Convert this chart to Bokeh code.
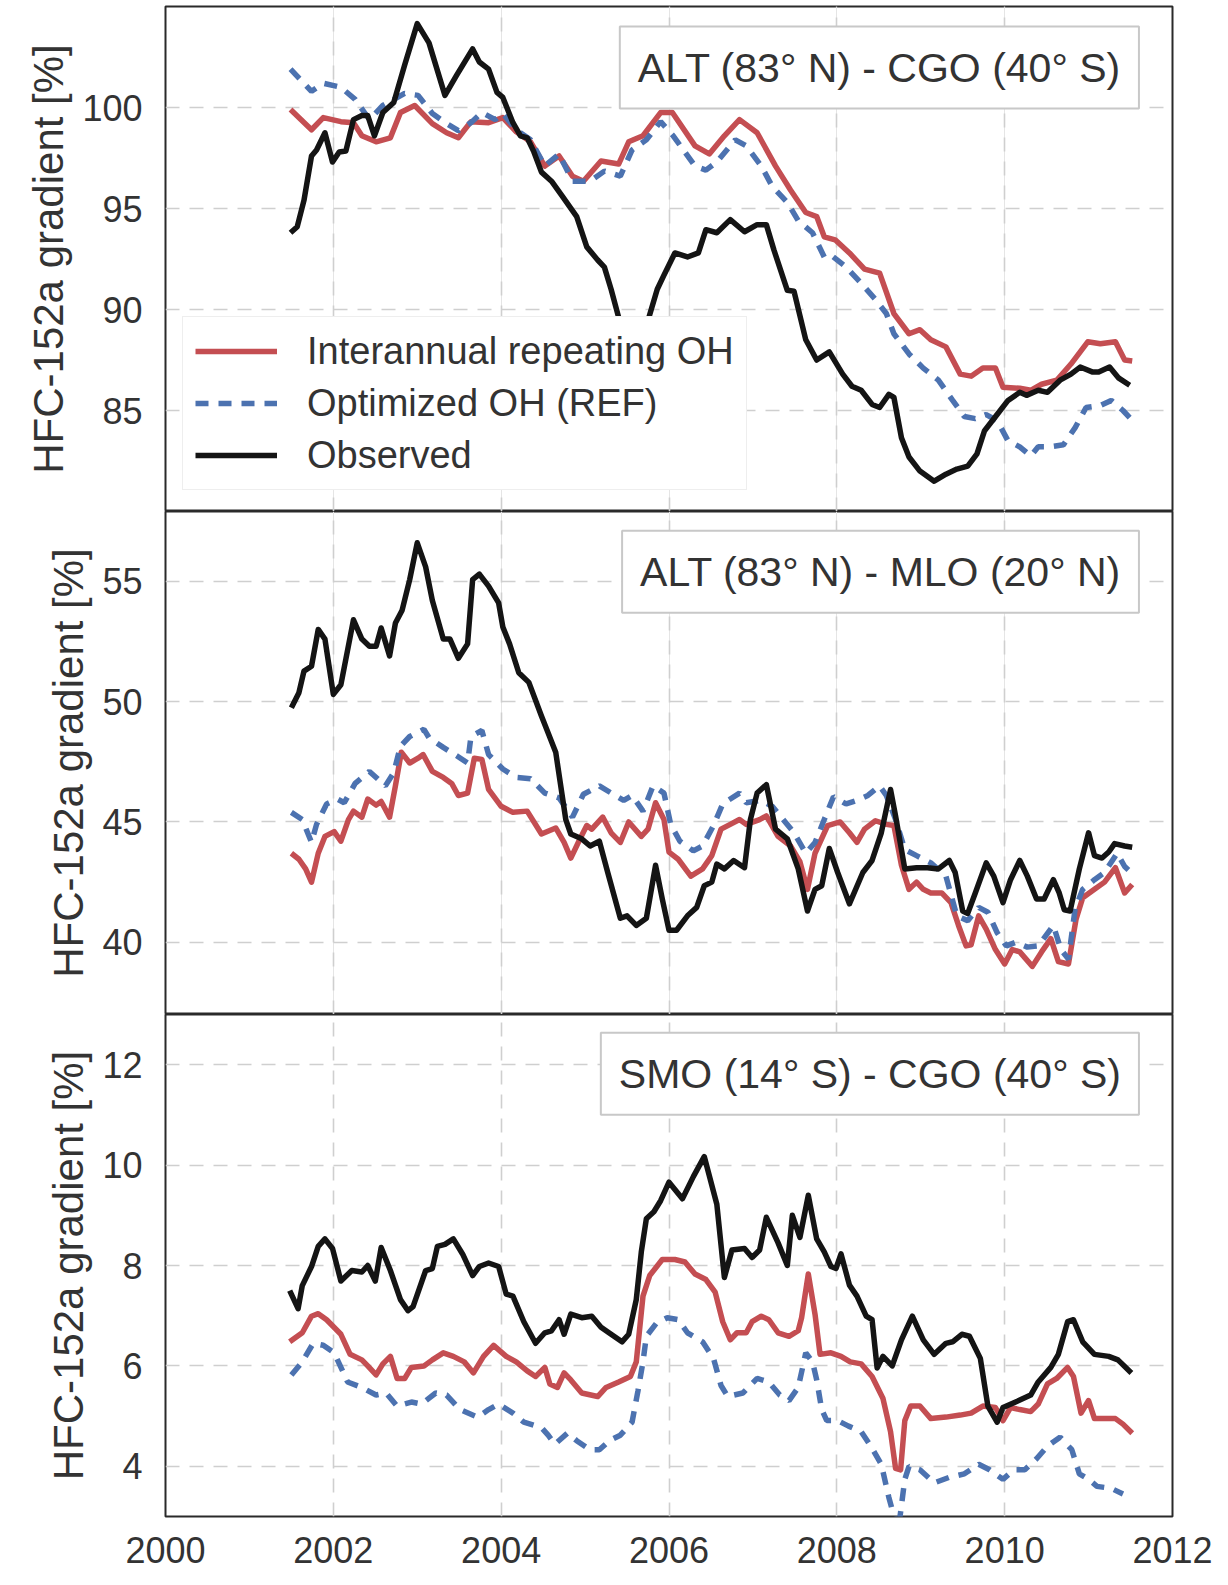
from bokeh.plotting import figure
from bokeh.layouts import column
from bokeh.models import FixedTicker, Legend, LegendItem, Label, Range1d, Grid
from bokeh.embed import file_html
from bokeh.resources import INLINE

FONT = "Liberation Sans"
TXT = "#333333"
RED = "#c44e52"
BLUE = "#4c72b0"
BLACK = "#141414"

series_labels = ["Interannual repeating OH", "Optimized OH (REF)", "Observed"]
ylabel = "HFC-152a gradient [%]"
panel_titles = ["ALT (83° N) - CGO (40° S)", "ALT (83° N) - MLO (20° N)", "SMO (14° S) - CGO (40° S)"]
x_ticks = [2000, 2002, 2004, 2006, 2008, 2010, 2012]

# ---------------- Panel 1: ALT - CGO ----------------
top_red_x = [2001.49, 2001.74, 2001.88, 2002.09, 2002.24, 2002.34, 2002.51, 2002.68, 2002.80, 2002.97,
             2003.18, 2003.35, 2003.49, 2003.64, 2003.85, 2004.02, 2004.18, 2004.35, 2004.52, 2004.69,
             2004.85, 2004.98, 2005.19, 2005.40, 2005.52, 2005.69, 2005.90, 2006.04, 2006.31, 2006.48,
             2006.66, 2006.84, 2007.05, 2007.27, 2007.45, 2007.63, 2007.76, 2007.85, 2007.98, 2008.15,
             2008.33, 2008.51, 2008.68, 2008.86, 2008.99, 2009.12, 2009.30, 2009.47, 2009.60, 2009.74,
             2009.89, 2009.98, 2010.18, 2010.31, 2010.44, 2010.62, 2010.79, 2010.99, 2011.14, 2011.32,
             2011.43, 2011.52]
top_red_y = [99.9, 98.9, 99.5, 99.3, 99.25, 98.6, 98.3, 98.5, 99.75, 100.1,
             99.2, 98.75, 98.5, 99.3, 99.25, 99.5, 98.8, 98.3, 97.1, 97.6,
             96.6, 96.35, 97.35, 97.2, 98.3, 98.6, 99.75, 99.75, 98.1, 97.7,
             98.6, 99.4, 98.75, 97.1, 95.9, 94.8, 94.6, 93.6, 93.45, 92.8,
             92.0, 91.8, 89.8, 88.8, 89.0, 88.5, 88.15, 86.8, 86.7, 87.1,
             87.1, 86.15, 86.1, 86.0, 86.3, 86.5, 87.3, 88.4, 88.3, 88.4,
             87.5, 87.45]

top_blue_x = [2001.49, 2001.74, 2001.88, 2002.09, 2002.26, 2002.43, 2002.59, 2002.85, 2003.01, 2003.18,
              2003.35, 2003.49, 2003.64, 2003.77, 2003.93, 2004.02, 2004.18, 2004.35, 2004.52, 2004.69,
              2004.85, 2005.06, 2005.23, 2005.42, 2005.56, 2005.73, 2005.90, 2006.05, 2006.31, 2006.44,
              2006.57, 2006.79, 2006.92, 2007.10, 2007.23, 2007.41, 2007.54, 2007.71, 2007.85, 2007.93,
              2008.11, 2008.29, 2008.46, 2008.59, 2008.68, 2008.86, 2009.03, 2009.21, 2009.38, 2009.52,
              2009.65, 2009.78, 2009.91, 2010.04, 2010.18, 2010.31, 2010.40, 2010.53, 2010.70, 2010.84,
              2010.97, 2011.14, 2011.27, 2011.41, 2011.49]
top_blue_y = [101.9, 100.8, 101.2, 101.0, 100.4, 99.4, 100.1, 100.7, 100.6, 99.7,
              99.2, 98.85, 99.25, 99.75, 99.4, 99.7, 98.9, 98.4, 97.1, 97.7,
              96.35, 96.35, 96.85, 96.6, 97.9, 98.4, 99.3, 98.6, 97.1, 96.9,
              97.3, 98.4, 98.1, 97.1, 96.1, 95.3, 94.4, 93.8, 92.6, 92.7,
              92.1, 91.3, 90.5, 89.8, 88.8, 87.8, 87.1, 86.5, 85.5, 84.7,
              84.6, 84.8, 84.5, 83.5, 83.2, 82.75, 83.2, 83.2, 83.3, 84.15,
              85.15, 85.25, 85.5, 85.0, 84.65]

top_obs_x = [2001.49, 2001.57, 2001.65, 2001.74, 2001.80, 2001.90, 2001.99, 2002.07, 2002.15, 2002.24,
             2002.34, 2002.41, 2002.49, 2002.59, 2002.72, 2002.85, 2003.00, 2003.14, 2003.33, 2003.47,
             2003.66, 2003.74, 2003.85, 2003.95, 2004.02, 2004.14, 2004.23, 2004.31, 2004.39, 2004.48,
             2004.60, 2004.73, 2004.90, 2005.02, 2005.15, 2005.23, 2005.31, 2005.42, 2005.55, 2005.68,
             2005.76, 2005.86, 2005.94, 2006.07, 2006.22, 2006.35, 2006.44, 2006.57, 2006.73, 2006.90,
             2007.05, 2007.16, 2007.25, 2007.41, 2007.49, 2007.63, 2007.76, 2007.91, 2008.07, 2008.18,
             2008.29, 2008.42, 2008.51, 2008.62, 2008.68, 2008.77, 2008.86, 2008.99, 2009.16, 2009.30,
             2009.43, 2009.56, 2009.67, 2009.76, 2009.91, 2010.04, 2010.18, 2010.26, 2010.40, 2010.51,
             2010.66, 2010.79, 2010.90, 2011.05, 2011.12, 2011.25, 2011.36, 2011.49]
top_obs_y = [93.8, 94.1, 95.4, 97.6, 97.9, 98.75, 97.3, 97.8, 97.85, 99.4,
             99.6, 99.6, 98.6, 99.75, 100.25, 102.1, 104.15, 103.2, 100.6, 101.6,
             102.9, 102.25, 101.9, 100.75, 100.5, 99.25, 98.6, 98.5, 97.8, 96.8,
             96.35, 95.6, 94.6, 93.1, 92.45, 92.1, 91.0, 89.3, 87.0, 87.6,
             89.6, 91.0, 91.7, 92.8, 92.6, 92.8, 93.95, 93.8, 94.45, 93.85,
             94.2, 94.2, 92.95, 90.95, 90.9, 88.5, 87.5, 87.9, 86.8, 86.2,
             86.0, 85.3, 85.15, 85.8, 85.65, 83.65, 82.7, 82.0, 81.5, 81.85,
             82.1, 82.25, 82.85, 84.0, 84.8, 85.5, 85.9, 85.75, 86.0, 85.9,
             86.5, 86.8, 87.15, 86.9, 86.9, 87.15, 86.6, 86.25]

# ---------------- Panel 2: ALT - MLO ----------------
mid_red_x = [2001.50, 2001.59, 2001.67, 2001.74, 2001.82, 2001.90, 2002.01, 2002.09, 2002.18, 2002.24,
             2002.34, 2002.41, 2002.51, 2002.57, 2002.67, 2002.74, 2002.81, 2002.91, 2003.01, 2003.07,
             2003.18, 2003.31, 2003.41, 2003.49, 2003.60, 2003.68, 2003.77, 2003.85, 2004.00, 2004.14,
             2004.31, 2004.48, 2004.65, 2004.75, 2004.83, 2004.94, 2005.02, 2005.08, 2005.21, 2005.31,
             2005.42, 2005.52, 2005.67, 2005.75, 2005.84, 2005.94, 2006.00, 2006.11, 2006.26, 2006.40,
             2006.51, 2006.62, 2006.73, 2006.84, 2006.92, 2007.08, 2007.16, 2007.30, 2007.45, 2007.56,
             2007.65, 2007.74, 2007.89, 2008.04, 2008.15, 2008.24, 2008.33, 2008.46, 2008.59, 2008.68,
             2008.77, 2008.86, 2008.95, 2009.03, 2009.12, 2009.25, 2009.36, 2009.45, 2009.54, 2009.60,
             2009.69, 2009.78, 2009.89, 2010.00, 2010.09, 2010.18, 2010.33, 2010.44, 2010.55, 2010.64,
             2010.76, 2010.85, 2010.93, 2011.07, 2011.19, 2011.32, 2011.43, 2011.52]
mid_red_y = [43.7, 43.45, 43.05, 42.5, 43.7, 44.4, 44.6, 44.2, 45.1, 45.45,
             45.2, 45.95, 45.7, 45.85, 45.2, 46.5, 47.9, 47.45, 47.65, 47.8,
             47.1, 46.85, 46.6, 46.1, 46.2, 47.65, 47.6, 46.35, 45.65, 45.4,
             45.45, 44.5, 44.75, 44.15, 43.5, 44.3, 44.85, 44.7, 45.2, 44.55,
             44.15, 45.0, 44.4, 44.7, 45.8, 45.1, 43.75, 43.45, 42.75, 43.05,
             43.6, 44.7, 44.9, 45.1, 44.9, 45.1, 45.25, 44.4, 44.0, 43.35,
             42.2, 43.7, 44.85, 45.0, 44.55, 44.15, 44.7, 45.05, 44.9, 44.85,
             43.2, 42.2, 42.5, 42.2, 42.05, 42.05, 41.65, 40.7, 39.85, 39.9,
             41.1, 40.55, 39.7, 39.1, 39.7, 39.6, 39.0, 39.6, 40.15, 39.2,
             39.1, 40.95, 41.85, 42.2, 42.5, 43.1, 42.05, 42.4]

mid_blue_x = [2001.50, 2001.63, 2001.74, 2001.80, 2001.92, 2002.05, 2002.13, 2002.26, 2002.43, 2002.62,
              2002.72, 2002.80, 2002.91, 2003.08, 2003.14, 2003.31, 2003.47, 2003.60, 2003.64, 2003.77,
              2003.85, 2004.02, 2004.18, 2004.35, 2004.52, 2004.69, 2004.85, 2004.98, 2005.17, 2005.36,
              2005.46, 2005.56, 2005.69, 2005.81, 2005.94, 2006.02, 2006.13, 2006.29, 2006.40, 2006.53,
              2006.64, 2006.84, 2006.92, 2007.10, 2007.23, 2007.36, 2007.49, 2007.63, 2007.74, 2007.85,
              2007.96, 2008.11, 2008.24, 2008.37, 2008.51, 2008.59, 2008.70, 2008.81, 2008.95, 2009.12,
              2009.30, 2009.43, 2009.56, 2009.69, 2009.80, 2009.91, 2010.02, 2010.13, 2010.27, 2010.40,
              2010.58, 2010.67, 2010.76, 2010.84, 2010.93, 2011.07, 2011.19, 2011.34, 2011.43, 2011.49]
mid_blue_y = [45.4, 45.1, 44.15, 44.9, 45.75, 45.95, 45.8, 46.6, 47.1, 46.5,
              47.05, 48.15, 48.55, 48.85, 48.5, 48.1, 47.75, 47.45, 48.55, 48.8,
              47.8, 47.2, 46.85, 46.8, 46.2, 46.0, 45.2, 46.15, 46.5, 46.1,
              45.9, 46.1, 45.45, 46.5, 46.2, 44.9, 44.2, 43.8, 44.0, 44.85,
              45.75, 46.2, 45.8, 45.9, 45.65, 45.1, 44.55, 43.7, 44.15, 45.1,
              46.05, 45.75, 45.9, 46.1, 46.5, 46.1, 45.1, 43.85, 43.6, 43.3,
              42.75, 41.1, 40.9, 41.45, 41.25, 40.4, 39.85, 40.0, 39.8, 39.85,
              40.7, 39.7, 39.3, 41.4, 42.2, 42.6, 42.9, 43.7, 43.15, 42.95]

mid_obs_x = [2001.50, 2001.59, 2001.65, 2001.74, 2001.82, 2001.90, 2002.00, 2002.09, 2002.24, 2002.34,
             2002.43, 2002.51, 2002.57, 2002.67, 2002.74, 2002.82, 2002.91, 2003.00, 2003.10, 2003.18,
             2003.31, 2003.39, 2003.49, 2003.60, 2003.66, 2003.74, 2003.85, 2003.97, 2004.02, 2004.10,
             2004.21, 2004.33, 2004.48, 2004.56, 2004.65, 2004.71, 2004.77, 2004.83, 2004.96, 2005.06,
             2005.17, 2005.27, 2005.42, 2005.50, 2005.61, 2005.73, 2005.84, 2005.92, 2006.00, 2006.09,
             2006.22, 2006.33, 2006.42, 2006.51, 2006.57, 2006.66, 2006.77, 2006.90, 2006.97, 2007.05,
             2007.16, 2007.27, 2007.41, 2007.54, 2007.65, 2007.74, 2007.82, 2007.91, 2008.01, 2008.15,
             2008.31, 2008.42, 2008.53, 2008.64, 2008.70, 2008.81, 2008.95, 2009.08, 2009.21, 2009.34,
             2009.41, 2009.50, 2009.56, 2009.65, 2009.78, 2009.87, 2009.98, 2010.07, 2010.18, 2010.27,
             2010.38, 2010.47, 2010.58, 2010.65, 2010.71, 2010.78, 2010.89, 2011.00, 2011.07, 2011.16,
             2011.24, 2011.31, 2011.43, 2011.52]
mid_obs_y = [49.75, 50.37, 51.27, 51.47, 53.0, 52.6, 50.3, 50.7, 53.4, 52.6,
             52.3, 52.3, 53.06, 51.9, 53.27, 53.8, 55.07, 56.6, 55.6, 54.2,
             52.6, 52.6, 51.8, 52.4, 55.07, 55.3, 54.8, 54.1, 53.1, 52.4,
             51.2, 50.8, 49.4, 48.7, 47.9, 46.5, 45.1, 44.5, 44.3, 44.0,
             44.2, 42.9, 41.0, 41.1, 40.7, 41.0, 43.2, 41.8, 40.5, 40.5,
             41.1, 41.45, 42.35, 42.5, 43.25, 43.05, 43.4, 43.1, 45.1, 46.2,
             46.55, 44.7, 44.3, 43.05, 41.3, 42.2, 42.35, 43.9, 42.9, 41.6,
             42.9, 43.4, 44.55, 46.35, 45.25, 43.05, 43.1, 43.1, 43.05, 43.4,
             42.9, 41.3, 41.2, 42.05, 43.3, 42.75, 41.65, 42.6, 43.4, 42.75,
             41.8, 41.8, 42.6, 42.05, 41.35, 41.3, 43.05, 44.55, 43.6, 43.5,
             43.75, 44.1, 44.0, 43.95]

# ---------------- Panel 3: SMO - CGO ----------------
bot_red_x = [2001.48, 2001.63, 2001.74, 2001.82, 2001.92, 2002.09, 2002.20, 2002.34, 2002.41, 2002.51,
             2002.59, 2002.68, 2002.76, 2002.85, 2002.93, 2003.08, 2003.18, 2003.31, 2003.43, 2003.56,
             2003.67, 2003.79, 2003.91, 2004.06, 2004.18, 2004.31, 2004.41, 2004.52, 2004.58, 2004.67,
             2004.75, 2004.83, 2004.96, 2005.15, 2005.25, 2005.40, 2005.54, 2005.61, 2005.69, 2005.77,
             2005.92, 2006.07, 2006.19, 2006.31, 2006.44, 2006.55, 2006.64, 2006.73, 2006.81, 2006.92,
             2006.99, 2007.10, 2007.19, 2007.30, 2007.43, 2007.54, 2007.58, 2007.66, 2007.74, 2007.80,
             2007.93, 2008.05, 2008.16, 2008.29, 2008.42, 2008.55, 2008.64, 2008.70, 2008.76, 2008.81,
             2008.88, 2008.99, 2009.12, 2009.30, 2009.47, 2009.60, 2009.74, 2009.89, 2009.98, 2010.07,
             2010.18, 2010.31, 2010.40, 2010.51, 2010.62, 2010.75, 2010.82, 2010.91, 2011.00, 2011.07,
             2011.19, 2011.32, 2011.41, 2011.52]
bot_red_y = [6.48, 6.66, 6.99, 7.04, 6.92, 6.63, 6.23, 6.12, 6.0, 5.82,
             6.04, 6.19, 5.75, 5.75, 5.97, 6.0, 6.12, 6.26, 6.19, 6.08,
             5.86, 6.19, 6.41, 6.19, 6.08, 5.9, 5.79, 5.97, 5.64, 5.57,
             5.86, 5.72, 5.46, 5.39, 5.57, 5.68, 5.79, 6.08, 7.39, 7.8,
             8.12, 8.12, 8.07, 7.83, 7.72, 7.47, 6.88, 6.52, 6.66, 6.66,
             6.88, 6.99, 6.92, 6.66, 6.59, 6.70, 6.96, 7.83, 7.03, 6.23,
             6.26, 6.19, 6.08, 6.04, 5.79, 5.35, 4.69, 3.96, 3.93, 4.91,
             5.2, 5.2, 4.95, 4.98, 5.02, 5.06, 5.2, 5.17, 4.91, 5.17,
             5.13, 5.09, 5.24, 5.64, 5.75, 5.97, 5.79, 5.06, 5.31, 4.95,
             4.95, 4.95, 4.84, 4.66]

bot_blue_x = [2001.50, 2001.63, 2001.76, 2001.88, 2002.01, 2002.11, 2002.17, 2002.34, 2002.51, 2002.63,
              2002.76, 2002.93, 2003.05, 2003.22, 2003.35, 2003.51, 2003.72, 2003.85, 2003.97, 2004.14,
              2004.27, 2004.48, 2004.56, 2004.64, 2004.79, 2004.90, 2005.06, 2005.17, 2005.29, 2005.42,
              2005.56, 2005.63, 2005.69, 2005.73, 2005.85, 2005.98, 2006.11, 2006.22, 2006.40, 2006.53,
              2006.62, 2006.70, 2006.88, 2007.05, 2007.19, 2007.32, 2007.43, 2007.54, 2007.63, 2007.71,
              2007.76, 2007.82, 2007.88, 2008.01, 2008.14, 2008.29, 2008.42, 2008.53, 2008.62, 2008.73,
              2008.81, 2008.86, 2008.99, 2009.16, 2009.34, 2009.52, 2009.69, 2009.82, 2009.98, 2010.11,
              2010.24, 2010.38, 2010.51, 2010.66, 2010.80, 2010.89, 2011.00, 2011.10, 2011.27, 2011.41]
bot_blue_y = [5.82, 6.08, 6.45, 6.41, 6.26, 5.9, 5.68, 5.57, 5.42, 5.46,
              5.2, 5.28, 5.24, 5.46, 5.42, 5.13, 4.98, 5.13, 5.24, 5.06,
              4.88, 4.77, 4.62, 4.44, 4.66, 4.51, 4.33, 4.33, 4.51, 4.62,
              4.88, 5.5, 6.08, 6.59, 6.85, 6.96, 6.92, 6.66, 6.48, 6.15,
              5.61, 5.39, 5.46, 5.75, 5.68, 5.42, 5.31, 5.57, 6.26, 6.08,
              5.72, 5.13, 4.91, 4.91, 4.8, 4.69, 4.36, 4.04, 3.38, 2.7,
              3.74, 4.0, 3.93, 3.67, 3.78, 3.85, 4.04, 3.93, 3.74, 3.93,
              3.93, 4.15, 4.4, 4.58, 4.33, 3.85, 3.74, 3.6, 3.56, 3.45]

bot_obs_x = [2001.48, 2001.58, 2001.63, 2001.74, 2001.82, 2001.90, 2001.99, 2002.09, 2002.22, 2002.34,
             2002.41, 2002.50, 2002.57, 2002.68, 2002.80, 2002.89, 2002.95, 2003.10, 2003.18, 2003.24,
             2003.33, 2003.43, 2003.54, 2003.66, 2003.74, 2003.85, 2003.97, 2004.06, 2004.14, 2004.27,
             2004.41, 2004.52, 2004.60, 2004.69, 2004.75, 2004.83, 2004.96, 2005.08, 2005.19, 2005.31,
             2005.44, 2005.52, 2005.61, 2005.67, 2005.73, 2005.82, 2005.90, 2006.00, 2006.16, 2006.29,
             2006.42, 2006.57, 2006.66, 2006.75, 2006.90, 2006.99, 2007.08, 2007.16, 2007.30, 2007.41,
             2007.47, 2007.56, 2007.66, 2007.76, 2007.85, 2007.93, 2007.99, 2008.05, 2008.15, 2008.24,
             2008.35, 2008.42, 2008.48, 2008.55, 2008.66, 2008.77, 2008.90, 2009.03, 2009.16, 2009.30,
             2009.38, 2009.49, 2009.58, 2009.71, 2009.80, 2009.91, 2009.98, 2010.13, 2010.31, 2010.40,
             2010.55, 2010.64, 2010.75, 2010.82, 2010.93, 2011.07, 2011.24, 2011.35, 2011.51]
bot_obs_y = [7.5, 7.14, 7.6, 7.98, 8.38, 8.53, 8.34, 7.69, 7.9, 7.87,
             8.0, 7.69, 8.36, 7.9, 7.32, 7.1, 7.18, 7.9, 7.94, 8.38,
             8.42, 8.53, 8.23, 7.8, 7.98, 8.05, 7.98, 7.43, 7.39, 6.88,
             6.45, 6.66, 6.7, 6.92, 6.63, 7.03, 6.96, 6.99, 6.77, 6.63,
             6.48, 6.63, 7.32, 8.27, 8.93, 9.07, 9.29, 9.66, 9.33, 9.77,
             10.17, 9.22, 7.76, 8.31, 8.34, 8.16, 8.31, 8.96, 8.45, 8.0,
             9.0, 8.56, 9.4, 8.53, 8.27, 7.98, 7.94, 8.23, 7.61, 7.39,
             6.99, 6.92, 5.96, 6.19, 6.0, 6.52, 6.99, 6.52, 6.23, 6.45,
             6.48, 6.63, 6.59, 6.15, 5.2, 4.88, 5.17, 5.28, 5.42, 5.68,
             5.97, 6.23, 6.88, 6.92, 6.48, 6.23, 6.19, 6.12, 5.86]

panels = [
    dict(red=(top_red_x, top_red_y), blue=(top_blue_x, top_blue_y), obs=(top_obs_x, top_obs_y),
         yr=(80, 105), yticks=[85, 90, 95, 100], fh=505, bt=6, bb=0, xaxis=False, lab_y=101.98),
    dict(red=(mid_red_x, mid_red_y), blue=(mid_blue_x, mid_blue_y), obs=(mid_obs_x, mid_obs_y),
         yr=(37.0, 57.9), yticks=[40, 45, 50, 55], fh=503, bt=0, bb=0, xaxis=False, lab_y=55.4),
    dict(red=(bot_red_x, bot_red_y), blue=(bot_blue_x, bot_blue_y), obs=(bot_obs_x, bot_obs_y),
         yr=(3, 13), yticks=[4, 6, 8, 10, 12], fh=502, bt=0, bb=69, xaxis=True, lab_y=11.82),
]

figs = []
for i, d in enumerate(panels):
    p = figure(frame_width=1007, frame_height=d["fh"],
               x_range=Range1d(2000, 2012), y_range=Range1d(*d["yr"]),
               x_axis_location="below" if d["xaxis"] else None,
               output_backend="svg", toolbar_location=None,
               min_border_left=165, min_border_right=56,
               min_border_top=d["bt"], min_border_bottom=d["bb"])
    p.background_fill_color = "white"
    p.border_fill_color = "white"
    p.outline_line_color = "#2a2a2a"
    p.outline_line_width = 2

    # y axis
    yax = p.yaxis[0]
    yax.ticker = FixedTicker(ticks=d["yticks"])
    yax.axis_label = ylabel
    yax.axis_label_text_font = FONT
    yax.axis_label_text_font_size = "42px"
    yax.axis_label_text_font_style = "normal"
    yax.axis_label_text_color = TXT
    yax.axis_label_standoff = 7
    yax.major_label_text_font = FONT
    yax.major_label_text_font_size = "36px"
    yax.major_label_text_color = TXT
    yax.major_label_standoff = 17
    yax.axis_line_color = None
    yax.major_tick_line_color = None
    yax.minor_tick_line_color = None

    p.ygrid.ticker = FixedTicker(ticks=d["yticks"])
    p.ygrid.grid_line_color = "#cfcfcf"
    p.ygrid.grid_line_dash = "14 10"
    p.ygrid.grid_line_width = 1.6

    if d["xaxis"]:
        xax = p.xaxis[0]
        xax.ticker = FixedTicker(ticks=x_ticks)
        xax.major_label_text_font = FONT
        xax.major_label_text_font_size = "36px"
        xax.major_label_text_color = TXT
        xax.major_label_standoff = 14
        xax.axis_line_color = None
        xax.major_tick_line_color = None
        xax.minor_tick_line_color = None
        p.xgrid.ticker = FixedTicker(ticks=x_ticks[1:-1])
        p.xgrid.grid_line_color = "#cfcfcf"
        p.xgrid.grid_line_dash = "14 10"
        p.xgrid.grid_line_width = 1.6
    else:
        p.add_layout(Grid(dimension=0, ticker=FixedTicker(ticks=x_ticks[1:-1]),
                          grid_line_color="#cfcfcf", grid_line_dash="14 10", grid_line_width=1.6))

    r_red = p.line(d["red"][0], d["red"][1], line_color=RED, line_width=5.5, line_join="round")
    r_blue = p.line(d["blue"][0], d["blue"][1], line_color=BLUE, line_width=5.5, line_dash="13 10")
    r_obs = p.line(d["obs"][0], d["obs"][1], line_color=BLACK, line_width=5.5, line_join="round")

    lab = Label(x=2011.60, y=d["lab_y"], text=panel_titles[i], text_align="right",
                text_baseline="middle", text_font=FONT, text_font_size="41px", text_color=TXT,
                background_fill_color="white", background_fill_alpha=1.0,
                border_line_color="#c8c8c8", border_line_width=2, padding=18)
    p.add_layout(lab)

    if i == 0:
        legend = Legend(items=[LegendItem(label=series_labels[0], renderers=[r_red]),
                               LegendItem(label=series_labels[1], renderers=[r_blue]),
                               LegendItem(label=series_labels[2], renderers=[r_obs])],
                        location=(17, 21), margin=0, padding=12, spacing=8,
                        glyph_width=82, glyph_height=44, label_height=44, label_standoff=30,
                        label_text_font=FONT, label_text_font_size="38px", label_text_color=TXT,
                        border_line_color="#dddddd", border_line_width=1.5,
                        background_fill_color="white", background_fill_alpha=1.0)
        p.add_layout(legend, "center")
    figs.append(p)

layout = column(*figs, spacing=0)
open("out.html", "w").write(file_html(layout, INLINE))
